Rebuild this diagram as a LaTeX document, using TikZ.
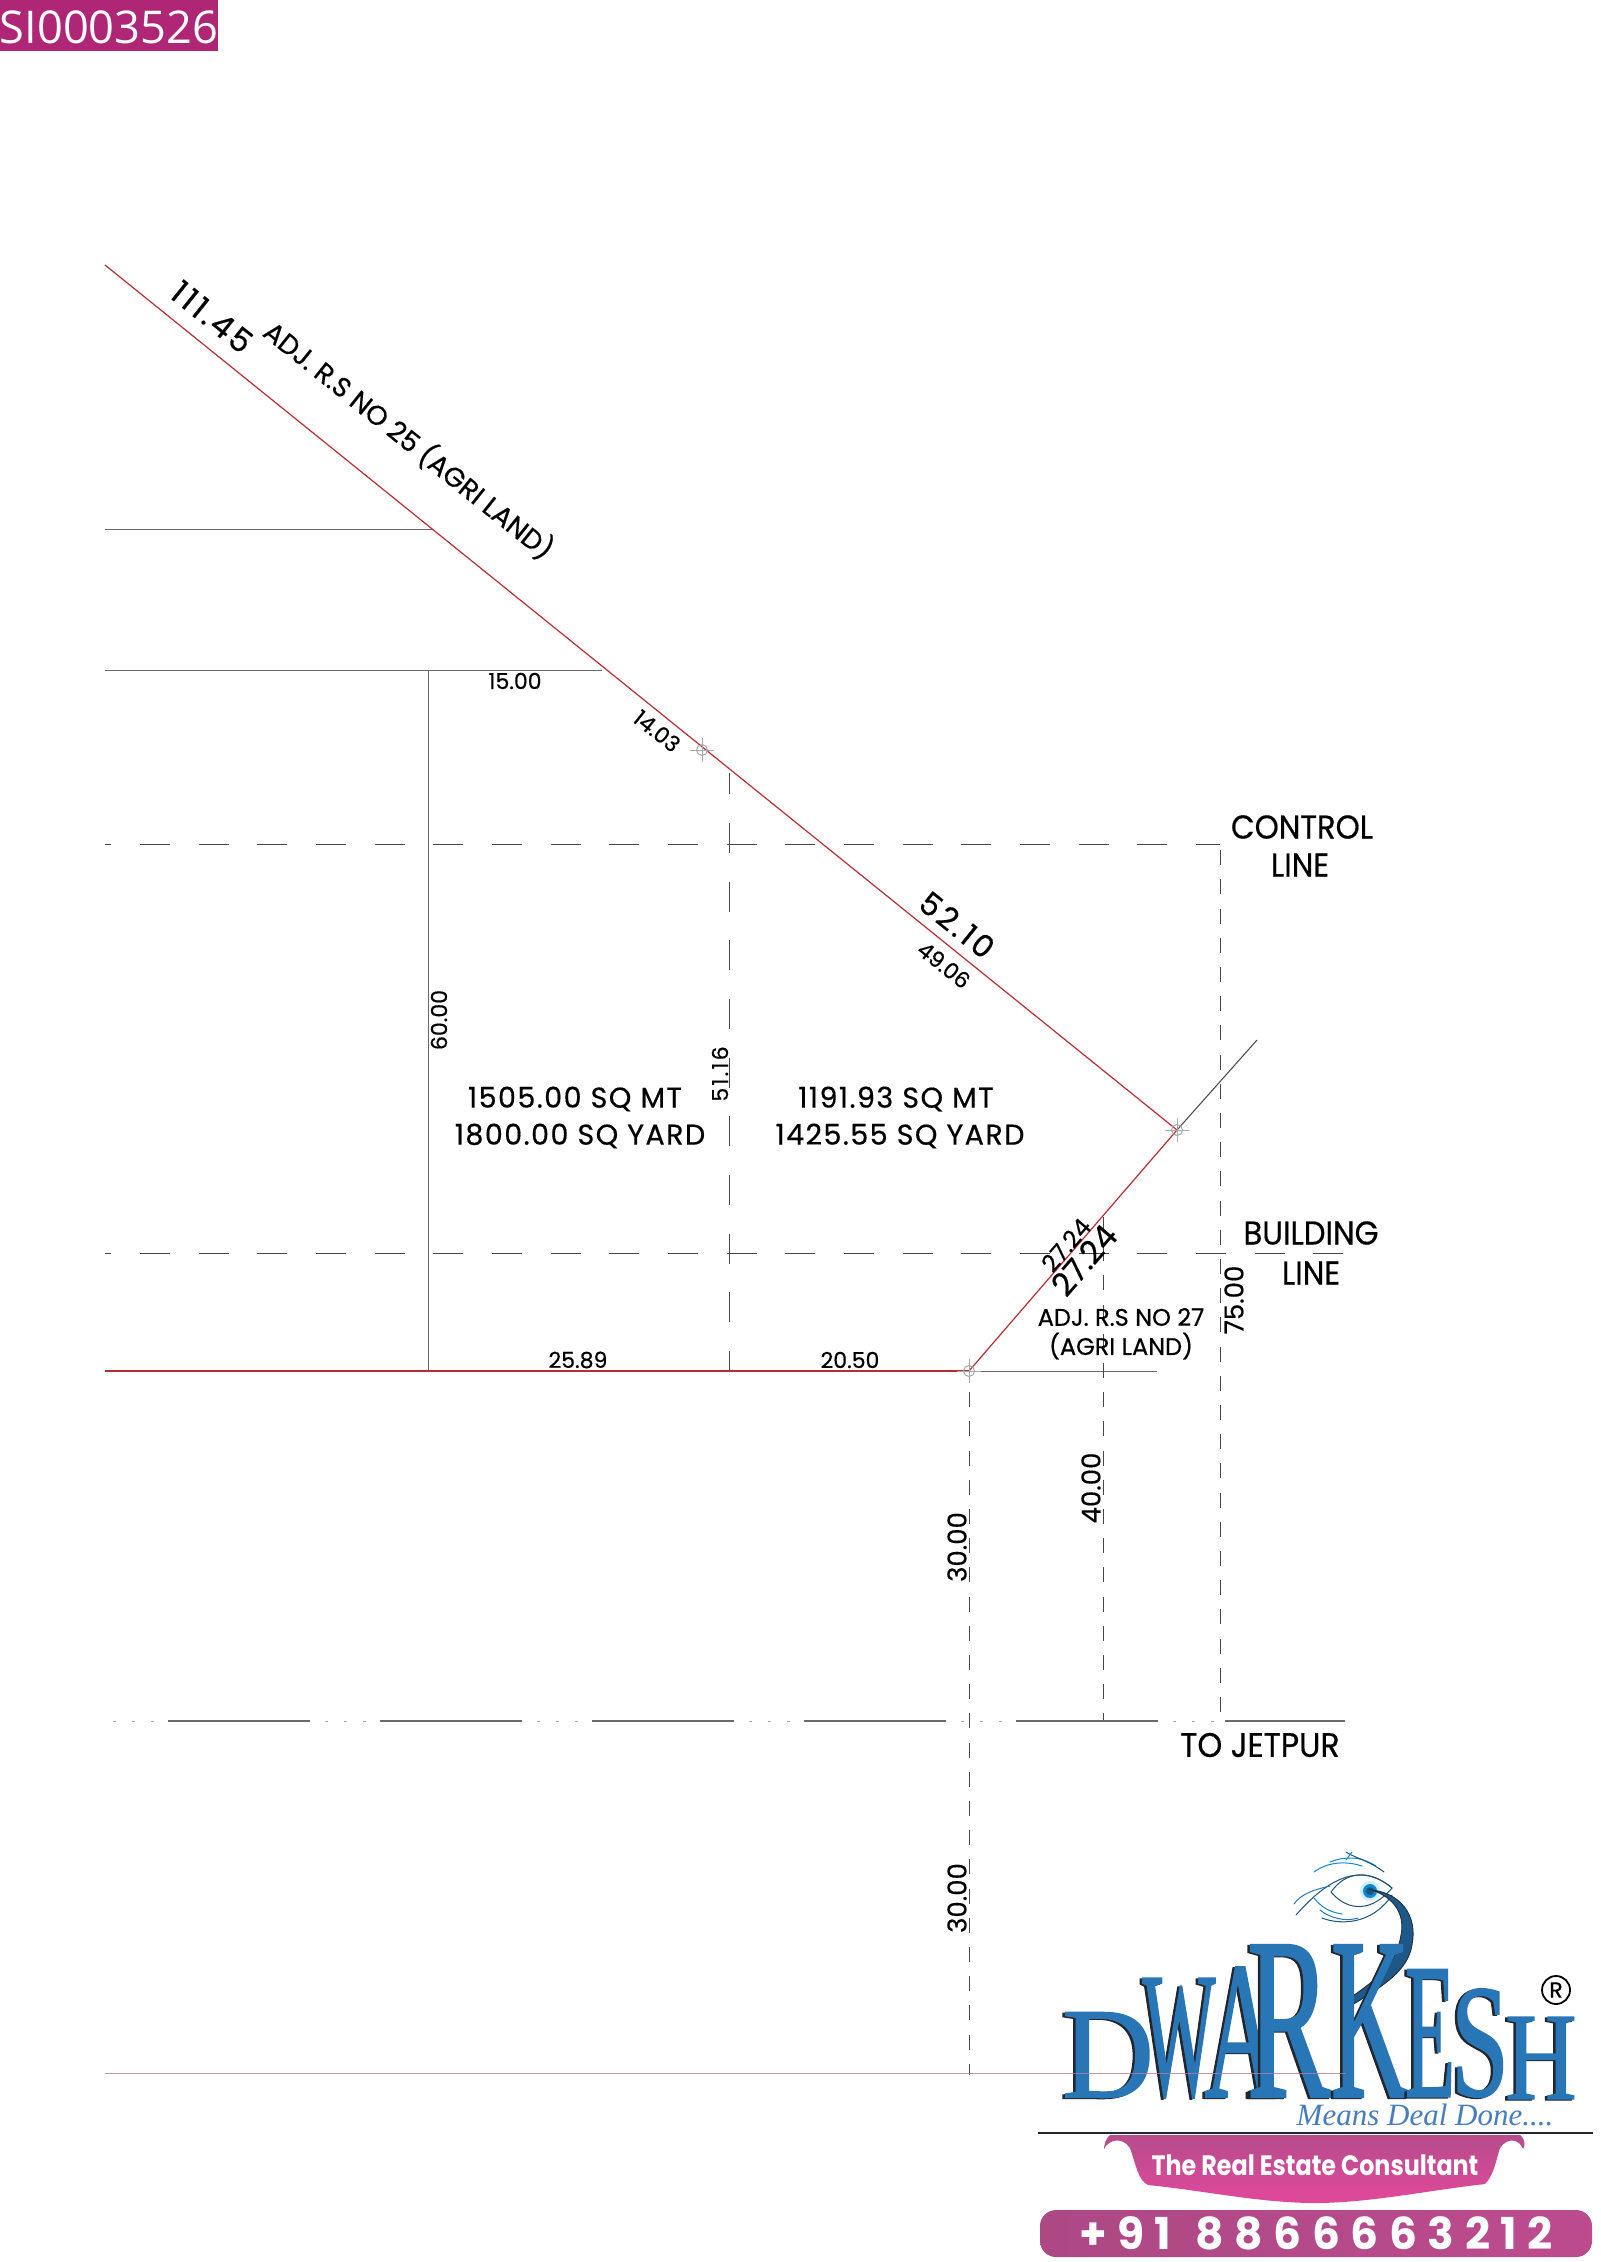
\documentclass[tikz,border=0pt]{standalone}
\usepackage{fontspec}
\usepackage{graphicx}
\setmainfont{Poppins}
\newfontfamily\lblfont[FakeBold=0.5]{Poppins}
\newfontfamily\capfont[FakeStretch=0.93,FakeBold=0.5]{Poppins}
\newfontfamily\areafont[LetterSpace=5,FakeBold=0.5]{Poppins}
\newfontfamily\widefont[LetterSpace=10,FakeBold=0.5]{Poppins}
\newfontfamily\badgefont{Open Sans}
\newfontfamily\logofont[FakeStretch=0.8,FakeBold=1]{Liberation Serif}
\newfontfamily\tagfont{Liberation Serif}
\newfontfamily\contactfont[FakeStretch=0.85]{Poppins}
\newfontfamily\phonefont[LetterSpace=24]{Poppins}
\definecolor{plotred}{RGB}{185,45,50}
\definecolor{graytwo}{RGB}{105,105,105}
\definecolor{dashgray}{RGB}{70,70,70}
\definecolor{markgray}{RGB}{165,170,170}
\definecolor{roadpurple}{RGB}{175,125,160}
\definecolor{badgepink}{RGB}{174,38,117}
\definecolor{logoblue}{RGB}{40,118,182}
\definecolor{logoshadow}{RGB}{35,38,45}
\definecolor{tagblue}{RGB}{72,125,188}
\definecolor{pinkdark}{RGB}{182,76,140}
\definecolor{pinklight}{RGB}{226,72,155}
\begin{document}
\begin{tikzpicture}[x=0.5pt,y=-0.5pt,
  redline/.style={draw=plotred,line width=0.6pt},
  solidgray/.style={draw=graytwo,line width=0.5pt},
  longdash/.style={draw=dashgray,line width=0.5pt,dash pattern=on 15pt off 14.33pt,dash phase=11.83pt},
  shortdash/.style={draw=dashgray,line width=0.5pt,dash pattern=on 7.5pt off 7.1pt},
  markline/.style={draw=markgray,line width=0.5pt},
  lbl/.style={inner sep=0pt,outer sep=0pt,align=center,text=black,font=\lblfont\fontsize{#1}{#1}\selectfont},
  caplbl/.style={inner sep=0pt,outer sep=0pt,align=center,text=black,font=\capfont\fontsize{#1}{#1}\selectfont},
  arealbl/.style={inner sep=0pt,outer sep=0pt,align=center,text=black,font=\areafont\fontsize{#1}{#1}\selectfont},
  widelbl/.style={inner sep=0pt,outer sep=0pt,align=center,text=black,font=\widefont\fontsize{#1}{#1}\selectfont},
  logoletter/.style={inner sep=0pt,outer sep=0pt,text=logoblue},
  logoshade/.style={inner sep=0pt,outer sep=0pt,text=logoshadow},
  frond/.style={draw=#1,line width=0.5pt,line cap=round},
]
\useasboundingbox (0,0) rectangle (1600,2262);
\fill[white] (0,0) rectangle (1600,2262);

% badge
\fill[badgepink] (0,0) rectangle (218,51);
\node[inner sep=0pt,text=white,font=\badgefont\fontsize{22.6}{22.6}\selectfont] (badge) at (109,27) {SI0003526};

% coordinates
\coordinate (dstart) at (105,265);
\coordinate (mkA) at (702,750);
\coordinate (corner) at (1177,1130);
\coordinate (botc) at (969,1371);
\coordinate (extend) at (1257,1040);
\coordinate (leftbot) at (105,1371);
\coordinate (rightbot) at (1157,1371);
\coordinate (lTopA) at (105,530);
\coordinate (rTopA) at (432,530);
\coordinate (lTopB) at (105,670);
\coordinate (rTopB) at (602,670);
\coordinate (vA) at (428,670);
\coordinate (vAb) at (428,1371);
\coordinate (ctlL) at (105,844);
\coordinate (ctlR) at (1220,844);
\coordinate (bldL) at (105,1253);
\coordinate (bldR) at (1343,1253);
\coordinate (vB) at (729,773);
\coordinate (vBb) at (729,1371);
\coordinate (vC) at (1103,1217);
\coordinate (vCb) at (1103,1721);
\coordinate (vDb) at (1220,1721);
\coordinate (vEb) at (969,2075);
\coordinate (purL) at (105,2073);
\coordinate (purR) at (1346,2073);
\coordinate (roadA) at (1225,1721);
\coordinate (roadB) at (1345,1721);

% thin gray lines
\draw[solidgray] (lTopA) -- (rTopA);
\draw[solidgray] (lTopB) -- (rTopB);
\draw[solidgray] (vA) -- (vAb);
\draw[solidgray] (botc) -- (rightbot);
\draw[draw=dashgray,line width=0.5pt] (corner) -- (extend);

% dashed lines
\draw[longdash] (ctlL) -- (ctlR);
\draw[longdash] (bldL) -- (bldR);
\draw[longdash,dash phase=4.35pt] (vB) -- (vBb);
\draw[shortdash,dash phase=0pt] (vC) -- (vCb);
\draw[shortdash,dash phase=11.5pt] (ctlR) -- (vDb);
\draw[shortdash,dash phase=4pt] (botc) -- (vEb);

% road
\foreach \k in {0,1,2,3,4}{
  \draw[draw=graytwo,line width=0.7pt] ({168+212*\k},1721) -- ({310+212*\k},1721);
}
\draw[draw=graytwo,line width=0.7pt] (roadA) -- (roadB);
\foreach \k in {0,1,2,3,4,5}{
  \foreach \d in {113,132,151}{
    \draw[draw=markgray,line width=0.5pt] ({\d+212*\k},1721) -- ({\d+212*\k+3},1721);
  }
}

% plot boundary
\draw[redline] (dstart) -- (corner);
\draw[redline] (corner) -- (botc);
\draw[redline] (leftbot) -- (botc);

% crosshair marks
\foreach \cx/\cy in {702/750,1177/1130,969/1371}{
  \draw[markline] (\cx,\cy) circle (5.5);
  \draw[markline] (\cx-12,\cy) -- (\cx+12,\cy);
  \draw[markline] (\cx,\cy-12) -- (\cx,\cy+12);
}

% labels
\node[widelbl=16,rotate=-38.66] (lA) at (212,317) {111.45};
\node[lbl=13.6,rotate=-38.66] (lB) at (409,440) {ADJ. R.S NO 25 (AGRI LAND)};
\node[lbl=11] (lC) at (515,681) {15.00};
\node[lbl=11,rotate=-38.66] (lD) at (657,731) {14.03};
\node[widelbl=15.5,rotate=-38.66] (lE) at (957,925) {52.10};
\node[lbl=11,rotate=-38.66] (lF) at (944,965) {49.06};
\node[lbl=11,rotate=90] (lG) at (439,1020) {60.00};
\node[widelbl=11,rotate=90] (lH) at (720,1074) {51.16};
\node[arealbl=14.3] (lI) at (575,1099) {1505.00 SQ MT};
\node[arealbl=14.3] (lJ) at (580,1136) {1800.00 SQ YARD};
\node[arealbl=14.3] (lK) at (896,1099) {1191.93 SQ MT};
\node[arealbl=14.3] (lL) at (900,1136) {1425.55 SQ YARD};
\node[caplbl=16.5] (lM) at (1302,827) {CONTROL};
\node[caplbl=16.5] (lN) at (1300,865) {LINE};
\node[caplbl=16.5] (lO) at (1311,1233) {BUILDING};
\node[caplbl=16.5] (lP) at (1311,1273) {LINE};
\node[lbl=13,rotate=90] (lQ) at (1234,1300) {75.00};
\node[lbl=12,rotate=49.2] (lR) at (1066,1245) {27.24};
\node[lbl=16,rotate=49.2] (lS) at (1084,1260) {27.24};
\node[lbl=12] (lT) at (1121,1317) {ADJ. R.S NO 27};
\node[lbl=12] (lU) at (1121,1346) {(AGRI LAND)};
\node[lbl=11] (lV) at (578,1360) {25.89};
\node[lbl=11] (lW) at (850,1360) {20.50};
\node[lbl=13,rotate=90] (lX) at (1091,1488) {40.00};
\node[lbl=13,rotate=90] (lY) at (957,1547) {30.00};
\node[lbl=13,rotate=90] (lZ) at (957,1898) {30.00};
\node[caplbl=17] (lAA) at (1260,1745) {TO JETPUR};

% logo: feather
\draw[frond=logoblue!70!black] (1331,1892) .. controls (1345,1872) and (1368,1868) .. (1392,1888) .. controls (1372,1912) and (1348,1912) .. (1331,1892);
\draw[frond=logoblue!70!black] (1296,1915) .. controls (1318,1890) and (1355,1856) .. (1392,1888);
\draw[frond=cyan!70!blue] (1314,1872) .. controls (1330,1860) and (1350,1862) .. (1362,1866);
\draw[frond=cyan!70!blue] (1330,1862) .. controls (1345,1856) and (1360,1856) .. (1376,1866);
\draw[frond=logoblue!70!black] (1346,1852) .. controls (1355,1858) and (1368,1860) .. (1384,1872);
\draw[frond=cyan!70!blue] (1346,1860) -- (1352,1852);
\draw[frond=logoblue] (1294,1904) .. controls (1300,1895) and (1312,1890) .. (1330,1886);
\draw[frond=logoblue!70!black] (1322,1918) .. controls (1340,1925) and (1372,1925) .. (1392,1895);
\draw[frond=cyan!70!blue] (1314,1898) .. controls (1322,1908) and (1330,1912) .. (1342,1914);
\draw[frond=logoblue] (1320,1910) .. controls (1330,1918) and (1345,1922) .. (1358,1918);
\fill[cyan!20] (1370,1891) circle (10);
\fill[cyan!70!blue] (1370,1891) circle (7);
\fill[logoblue!70!black] (1370,1891) circle (4);
\filldraw[fill=logoblue!75!black,draw=logoshadow,line width=0.4pt] (1372,1890) .. controls (1400,1893) and (1418,1915) .. (1412,1945) .. controls (1408,1970) and (1385,1985) .. (1352,2005) -- (1350,1998) .. controls (1378,1978) and (1396,1965) .. (1401,1935) .. controls (1405,1915) and (1395,1898) .. (1372,1890) -- cycle;

% logo: lettering
\foreach \ch/\xx/\yy/\ww/\hh/\nm in {D/1107/2055/46pt/42.5pt/a,W/1178/2038/36.5pt/58.5pt/b,A/1240/2032/36.5pt/65pt/c,R/1288/2021/42pt/76pt/d,K/1369/2021/39pt/76pt/e,E/1429/2033/25pt/63.5pt/f,S/1479/2043/29pt/53.5pt/g,H/1540/2058/35.5pt/41pt/h}{
  \node[logoshade] (shade\nm) at (\xx-1.5,\yy+1) {\resizebox{\ww}{\hh}{\logofont\ch}};
  \node[logoletter] (let\nm) at (\xx+1,\yy) {\resizebox{\ww}{\hh}{\logofont\ch}};
}
\node[draw=black,line width=0.9pt,circle,minimum size=14pt,inner sep=0pt,font=\lblfont\fontsize{11}{11}\selectfont] (regmark) at (1556,1990) {R};
\node[inner sep=0pt,text=tagblue,font=\tagfont\itshape\fontsize{15.5}{15.5}\selectfont] (tagline) at (1425,2115) {Means Deal Done....};
\draw[draw=roadpurple,line width=0.5pt,opacity=0.8] (purL) -- (purR);

% logo: divider
\coordinate (divL) at (1038,2133);
\coordinate (divR) at (1593,2133);
\draw[draw=logoshadow,line width=1.4pt] (divL) -- (divR);

% logo: banner
\shade[top color=pinkdark,bottom color=pinklight] (1110,2135) -- (1520,2135)
  .. controls (1526,2140) and (1525,2146) .. (1523,2149)
  .. controls (1520,2140) and (1508,2136) .. (1500,2148)
  .. controls (1496,2160) and (1494,2175) .. (1485,2184)
  .. controls (1430,2190) and (1370,2203) .. (1315,2203)
  .. controls (1260,2203) and (1200,2190) .. (1148,2185)
  .. controls (1138,2180) and (1136,2165) .. (1130,2148)
  .. controls (1122,2136) and (1108,2140) .. (1104,2149)
  .. controls (1104,2145) and (1106,2138) .. (1110,2135) -- cycle;
\node[inner sep=0pt,text=white,font=\contactfont\bfseries\fontsize{14}{14}\selectfont] (consult) at (1315,2165) {The Real Estate Consultant};

% logo: phone pill
\shade[left color=pinkdark!95!black,right color=pinkdark!85!pinklight,rounded corners=8pt] (1040,2210) rectangle (1592,2257);
\node[inner sep=0pt,text=white,font=\phonefont\bfseries\fontsize{22}{22}\selectfont] (phone) at (1316,2233) {+91\hspace{12pt}8866663212};
\end{tikzpicture}
\end{document}
